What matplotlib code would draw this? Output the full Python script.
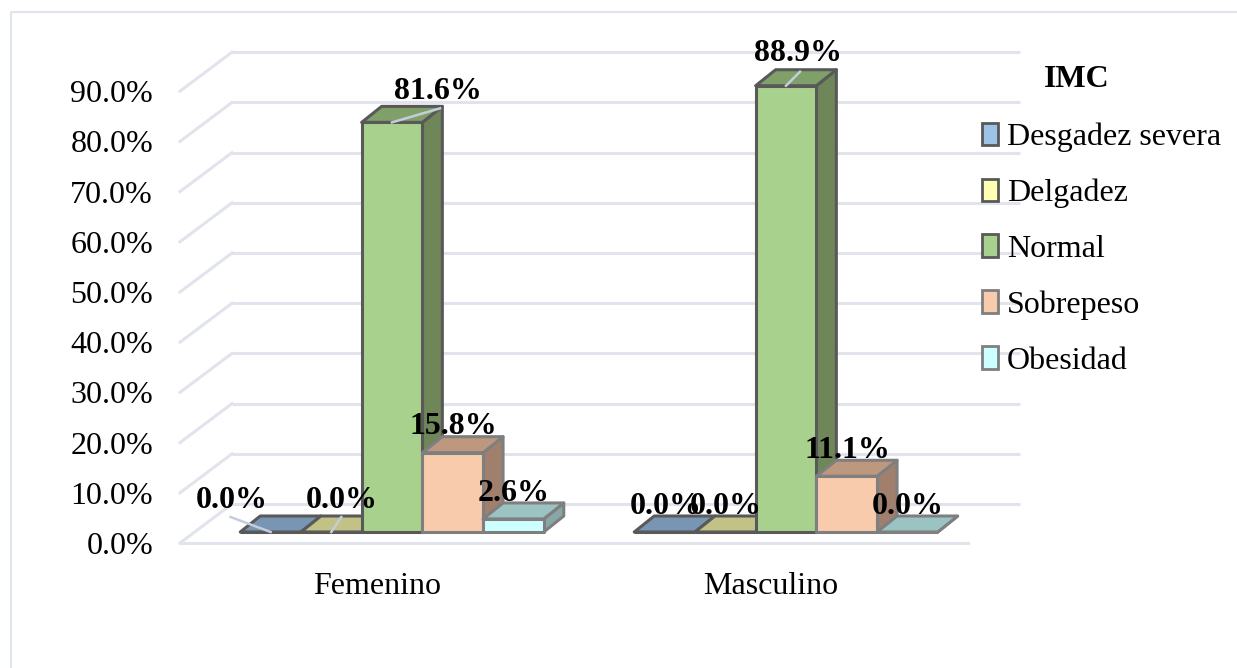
"""
Barras agrupadas con perspectiva: IMC por sexo.
"""

import matplotlib
matplotlib.use("Agg")
import matplotlib.pyplot as plt
from matplotlib.patches import Patch, Polygon

sexos = ["Femenino", "Masculino"]
categorias = ["Desgadez severa", "Delgadez", "Normal", "Sobrepeso", "Obesidad"]
femenino = [0.0, 0.0, 81.6, 15.8, 2.6]
masculino = [0.0, 0.0, 88.9, 11.1, 0.0]
ticks = [0, 10, 20, 30, 40, 50, 60, 70, 80, 90]

# colores de cada serie: frente, cara superior, cara lateral
frente = ["#9DC3E6", "#FFFFB3", "#A9D18E", "#F8CBAD", "#CCFFFF"]
arriba = ["#7896B4", "#C2C186", "#80A06A", "#BD987F", "#9BC3C1"]
lado = ["#6E88A0", "#A8A870", "#6E8658", "#A07F6C", "#88A8A8"]
borde = ["#595959", "#595959", "#595959", "#7F7F7F", "#7F7F7F"]

# escala: pixeles por unidad de cada eje
PX_X = 394.0
PX_Y = 5.02
ANCHO = 60.7 / PX_X
PROF_X = 20 / PX_X
PROF_Y = 16 / PX_Y

plt.rcParams["font.family"] = ["Liberation Serif", "DejaVu Serif"]
plt.rcParams["font.size"] = 23

fig = plt.figure(figsize=(12.37, 6.68), dpi=100)
ax = fig.add_axes([0, 0, 1, 1])
ax.set_xlim(-392 / PX_X, (1237 - 392) / PX_X)
ax.set_ylim((532 - 668) / PX_Y, 532 / PX_Y)
ax.axis("off")


def px(dx=0, dy=0):
    """Convierte un desplazamiento en pixeles a unidades de datos."""
    return dx / PX_X, dy / PX_Y


# marco exterior
ax.plot(*zip((-381 / PX_X, -136 / PX_Y), (-381 / PX_X, 520 / PX_Y), (845 / PX_X, 520 / PX_Y)),
        color="#E1E4EC", lw=1.6, zorder=1)

# paredes: lineas de la cuadricula y suelo
gx0 = -212 / PX_X
gx1 = 576 / PX_X
piso = -11 / PX_Y
dx_pared, dy_pared = px(52, 39)
for t in ticks:
    ax.plot([gx0 + dx_pared, gx1 + dx_pared],
            [piso + t + dy_pared, piso + t + dy_pared],
            color="#E1E4EC", lw=2.2, zorder=1, solid_capstyle="butt")
    ax.plot([gx0, gx0 + dx_pared], [piso + t, piso + t + dy_pared],
            color="#E1E4EC", lw=2.2, zorder=1)
    ax.text(gx0 - 27 / PX_X, piso + t, f"{t:.1f}%", ha="right", va="center_baseline")
ax.plot([gx0, gx1], [piso, piso], color="#E1E4EC", lw=2.2, zorder=1)


def barra(x, valor, i):
    """Dibuja una barra con su frente, cara superior y cara lateral."""
    z = 3 + x
    dx, dy = PROF_X, PROF_Y
    cfg = dict(edgecolor=borde[i], lw=2.2, joinstyle="round", zorder=z)
    ax.add_patch(Polygon([(x + ANCHO, 0), (x + ANCHO + dx, dy),
                          (x + ANCHO + dx, valor + dy), (x + ANCHO, valor)],
                         facecolor=lado[i], **cfg))
    ax.add_patch(Polygon([(x, valor), (x + dx, valor + dy),
                          (x + ANCHO + dx, valor + dy), (x + ANCHO, valor)],
                         facecolor=arriba[i], **cfg))
    ax.add_patch(Polygon([(x, 0), (x + ANCHO, 0), (x + ANCHO, valor), (x, valor)],
                         facecolor=frente[i], **cfg))


# desplazamiento de cada etiqueta respecto al centro de la barra (px)
pos_etiquetas = [
    [(-39, 35), (10, 35), (46, 34), (1, 30), (0, 29)],
    [(1, 29), (0, 29), (12, 36), (1, 29), (0, 29)],
]
# guias desde la barra hasta la etiqueta (px relativos al centro superior)
guias = [
    [((-40, 15), (0, 0)), ((10, 15), (0, 0)), ((48, 14), (0, 0)), None, None],
    [None, None, ((14, 14), (0, 0)), None, None],
]

for g, valores in enumerate([femenino, masculino]):
    for i, v in enumerate(valores):
        x = g + (i - 2.5) * ANCHO
        barra(x, v, i)
        cx = x + ANCHO / 2
        if guias[g][i]:
            a, b = guias[g][i]
            ax.plot([cx + a[0] / PX_X, cx + b[0] / PX_X], [v + a[1] / PX_Y, v + b[1] / PX_Y],
                    color="#C3CDDC", lw=1.8, zorder=20)
        ax.annotate(f"{v:.1f}%", (cx, v), xytext=pos_etiquetas[g][i],
                    textcoords="offset pixels", ha="center", va="center_baseline",
                    fontweight="bold", color="black", zorder=30)
    ax.text(g - 15 / PX_X, -51 / PX_Y, sexos[g], ha="center", va="center_baseline")

handles = [Patch(facecolor=frente[i], edgecolor=borde[i], lw=2) for i in range(5)]
leg = ax.legend(handles, categorias, frameon=False,
                loc="upper left", bbox_to_anchor=(975.5 / 1237, 1 - 116 / 668),
                handlelength=0.5, handleheight=0.7, handletextpad=0.28,
                labelspacing=0.83, borderaxespad=0, borderpad=0.2)
ax.text(685 / PX_X, (532 - 76) / PX_Y, "IMC", ha="center", va="center_baseline",
        fontweight="bold", zorder=30)

fig.savefig("out.png", dpi=100)
